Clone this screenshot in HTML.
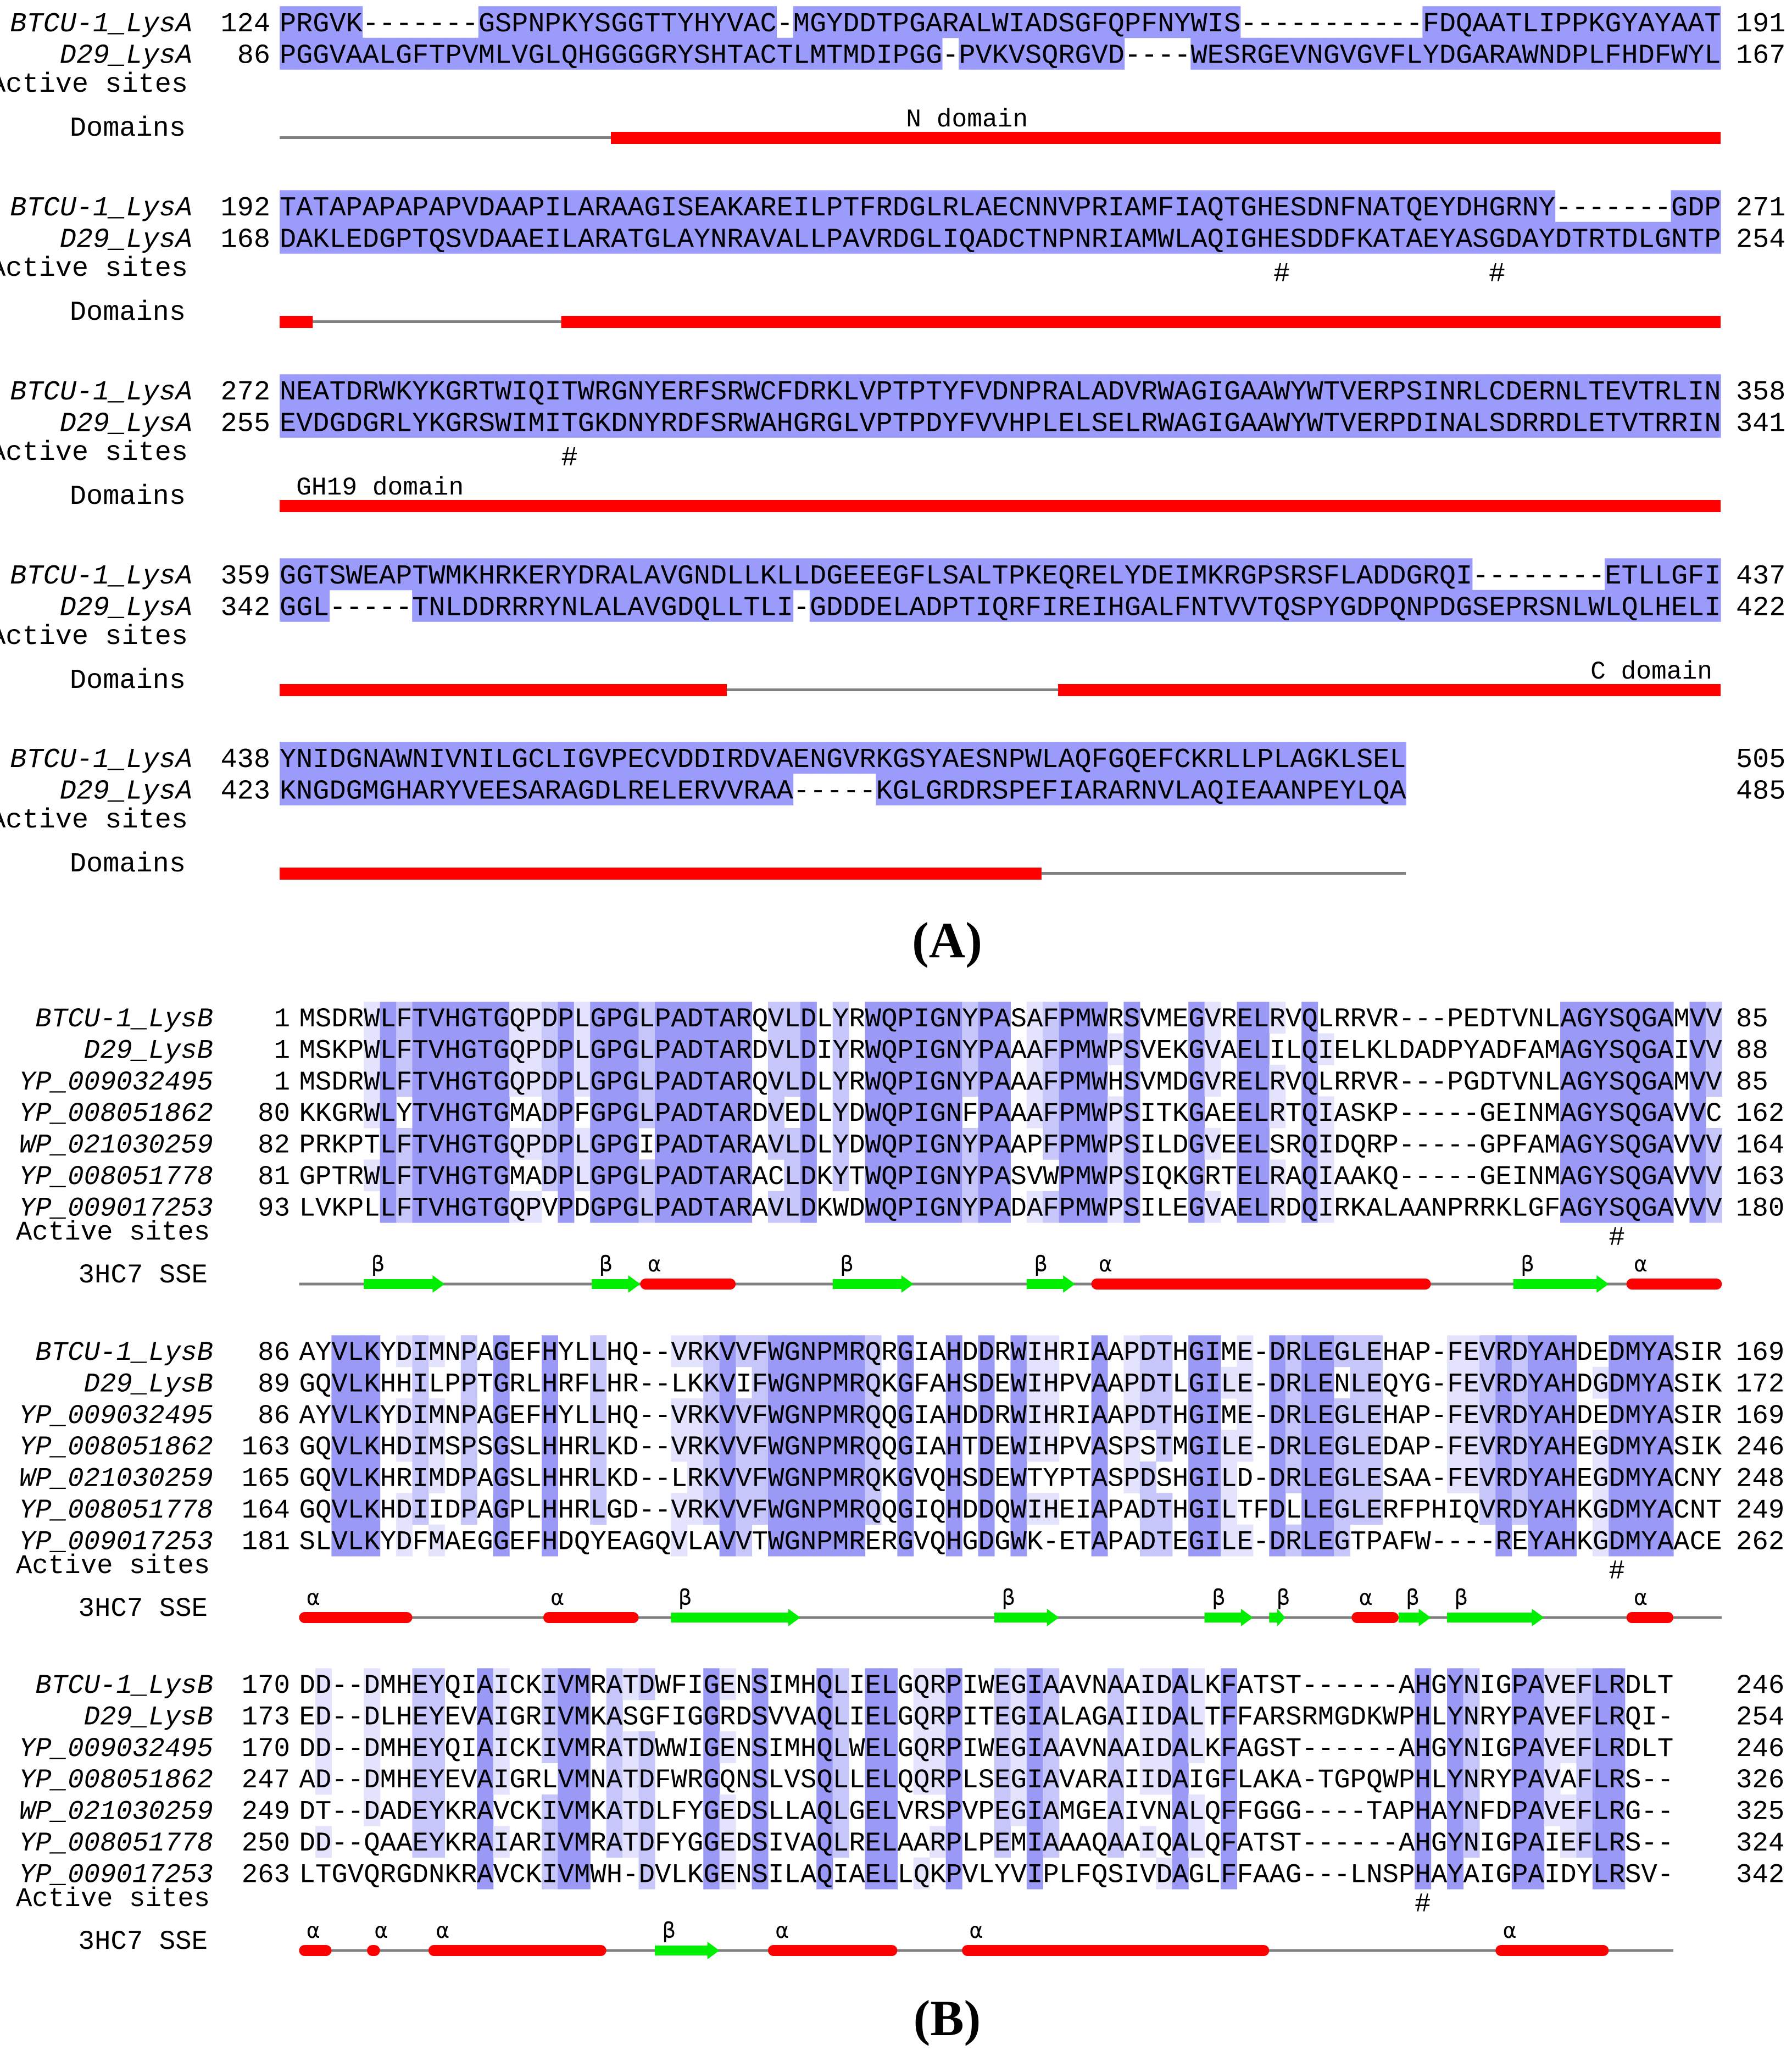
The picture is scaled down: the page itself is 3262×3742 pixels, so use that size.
<!DOCTYPE html>
<html><head><meta charset="utf-8">
<style>
html,body{margin:0;padding:0;background:#fff;}
svg{display:block;}
text{font-family:"Liberation Mono",monospace;}
</style></head>
<body>
<svg id="fig" xmlns="http://www.w3.org/2000/svg" width="3262" height="3742" viewBox="0 0 3262 3742">
<rect width="3262" height="3742" fill="#fff"/>
<g id="panelA"></g>
<g id="panelB"></g>
<text x="1724" y="1742" text-anchor="middle" style="font-family:'Liberation Serif',serif;font-weight:bold;font-size:92px">(A)</text>
<text x="1724" y="3704" text-anchor="middle" style="font-family:'Liberation Serif',serif;font-weight:bold;font-size:92px">(B)</text>
</svg>
<script>
// ---------- Panel A data ----------
const aNames = ["BTCU-1_LysA","D29_LysA"];
const aSeqs = [
 ["PRGVK-------GSPNPKYSGGTTYHYVAC-MGYDDTPGARALWIADSGFQPFNYWIS-----------FDQAATLIPPKGYAYAAT",
  "PGGVAALGFTPVMLVGLQHGGGGRYSHTACTLMTMDIPGG-PVKVSQRGVD----WESRGEVNGVGVFLYDGARAWNDPLFHDFWYL"],
 ["TATAPAPAPAPVDAAPILARAAGISEAKAREILPTFRDGLRLAECNNVPRIAMFIAQTGHESDNFNATQEYDHGRNY-------GDP",
  "DAKLEDGPTQSVDAAEILARATGLAYNRAVALLPAVRDGLIQADCTNPNRIAMWLAQIGHESDDFKATAEYASGDAYDTRTDLGNTP"],
 ["NEATDRWKYKGRTWIQITWRGNYERFSRWCFDRKLVPTPTYFVDNPRALADVRWAGIGAAWYWTVERPSINRLCDERNLTEVTRLIN",
  "EVDGDGRLYKGRSWIMITGKDNYRDFSRWAHGRGLVPTPDYFVVHPLELSELRWAGIGAAWYWTVERPDINALSDRRDLETVTRRIN"],
 ["GGTSWEAPTWMKHRKERYDRALAVGNDLLKLLDGEEEGFLSALTPKEQRELYDEIMKRGPSRSFLADDGRQI--------ETLLGFI",
  "GGL-----TNLDDRRRYNLALAVGDQLLTLI-GDDDELADPTIQRFIREIHGALFNTVVTQSPYGDPQNPDGSEPRSNLWLQLHELI"],
 ["YNIDGNAWNIVNILGCLIGVPECVDDIRDVAENGVRKGSYAESNPWLAQFGQEFCKRLLPLAGKLSEL",
  "KNGDGMGHARYVEESARAGDLRELERVVRAA-----KGLGRDRSPEFIARARNVLAQIEAANPEYLQA"]
];
const aStart = [[124,86],[192,168],[272,255],[359,342],[438,423]];
const aEnd = [[191,167],[271,254],[358,341],[437,422],[505,485]];
const aHash = [[],[60,73],[17],[],[]];
const aDomains = [
 [["g",0,20],["r",20,87]],
 [["r",0,2],["g",2,17],["r",17,87]],
 [["r",0,87]],
 [["r",0,27],["g",27,47],["r",47,87]],
 [["r",0,46],["g",46,68]]
];
const aDomLabels = [[["N domain",41.5,"middle"]],[],[["GH19 domain",1,"start"]],[["C domain",86.5,"end"]],[]];

// ---------- Panel B data ----------
const bNames = ["BTCU-1_LysB","D29_LysB","YP_009032495","YP_008051862","WP_021030259","YP_008051778","YP_009017253"];
const bSeqs = [
 ["MSDRWLFTVHGTGQPDPLGPGLPADTARQVLDLYRWQPIGNYPASAFPMWRSVMEGVRELRVQLRRVR---PEDTVNLAGYSQGAMVV",
  "MSKPWLFTVHGTGQPDPLGPGLPADTARDVLDIYRWQPIGNYPAAAFPMWPSVEKGVAELILQIELKLDADPYADFAMAGYSQGAIVV",
  "MSDRWLFTVHGTGQPDPLGPGLPADTARQVLDLYRWQPIGNYPAAAFPMWHSVMDGVRELRVQLRRVR---PGDTVNLAGYSQGAMVV",
  "KKGRWLYTVHGTGMADPFGPGLPADTARDVEDLYDWQPIGNFPAAAFPMWPSITKGAEELRTQIASKP-----GEINMAGYSQGAVVC",
  "PRKPTLFTVHGTGQPDPLGPGIPADTARAVLDLYDWQPIGNYPAAPFPMWPSILDGVEELSRQIDQRP-----GPFAMAGYSQGAVVV",
  "GPTRWLFTVHGTGMADPLGPGLPADTARACLDKYTWQPIGNYPASVWPMWPSIQKGRTELRAQIAAKQ-----GEINMAGYSQGAVVV",
  "LVKPLLFTVHGTGQPVPDGPGLPADTARAVLDKWDWQPIGNYPADAFPMWPSILEGVAELRDQIRKALAANPRRKLGFAGYSQGAVVV"],
 ["AYVLKYDIMNPAGEFHYLLHQ--VRKVVFWGNPMRQRGIAHDDRWIHRIAAPDTHGIME-DRLEGLEHAP-FEVRDYAHDEDMYASIR",
  "GQVLKHHILPPTGRLHRFLHR--LKKVIFWGNPMRQKGFAHSDEWIHPVAAPDTLGILE-DRLENLEQYG-FEVRDYAHDGDMYASIK",
  "AYVLKYDIMNPAGEFHYLLHQ--VRKVVFWGNPMRQQGIAHDDRWIHRIAAPDTHGIME-DRLEGLEHAP-FEVRDYAHDEDMYASIR",
  "GQVLKHDIMSPSGSLHHRLKD--VRKVVFWGNPMRQQGIAHTDEWIHPVASPSTMGILE-DRLEGLEDAP-FEVRDYAHEGDMYASIK",
  "GQVLKHRIMDPAGSLHHRLKD--LRKVVFWGNPMRQKGVQHSDEWTYPTASPDSHGILD-DRLEGLESAA-FEVRDYAHEGDMYACNY",
  "GQVLKHDIIDPAGPLHHRLGD--VRKVVFWGNPMRQQGIQHDDQWIHEIAPADTHGILTFDLLEGLERFPHIQVRDYAHKGDMYACNT",
  "SLVLKYDFMAEGGEFHDQYEAGQVLAVVTWGNPMRERGVQHGDGWK-ETAPADTEGILE-DRLEGTPAFW----REYAHKGDMYAACE"],
 ["DD--DMHEYQIAICKIVMRATDWFIGENSIMHQLIELGQRPIWEGIAAVNAAIDALKFATST------AHGYNIGPAVEFLRDLT",
  "ED--DLHEYEVAIGRIVMKASGFIGGRDSVVAQLIELGQRPITEGIALAGAIIDALTFFARSRMGDKWPHLYNRYPAVEFLRQI-",
  "DD--DMHEYQIAICKIVMRATDWWIGENSIMHQLWELGQRPIWEGIAAVNAAIDALKFAGST------AHGYNIGPAVEFLRDLT",
  "AD--DMHEYEVAIGRLVMNATDFWRGQNSLVSQLLELQQRPLSEGIAVARAIIDAIGFLAKA-TGPQWPHLYNRYPAVAFLRS--",
  "DT--DADEYKRAVCKIVMKATDLFYGEDSLLAQLGELVRSPVPEGIAMGEAIVNALQFFGGG----TAPHAYNFDPAVEFLRG--",
  "DD--QAAEYKRAIARIVMRATDFYGGEDSIVAQLRELAARPLPEMIAAAQAAIQALQFATST------AHGYNIGPAIEFLRS--",
  "LTGVQRGDNKRAVCKIVMWH-DVLKGENSILAQIAELLQKPVLYVIPLFQSIVDAGLFFAAG---LNSPHAYAIGPAIDYLRSV-"]
];
const bStart = [[1,1,1,80,82,81,93],[86,89,86,163,165,164,181],[170,173,170,247,249,250,263]];
const bEnd = [[85,88,85,162,164,163,180],[169,172,169,246,248,249,262],[246,254,246,326,325,324,342]];
const bHash = [[81],[81],[69]];
const bLineEnd = [88,88,85];
const bSSE = [
 [["b",4,9],["b",18.1,21.1],["a",21.1,27],["b",33,38],["b",45,48],["a",49,70],["b",75.1,81],["a",82.1,88]],
 [["a",0,7],["a",15.1,21],["b",23,31],["b",43,47],["b",56,59],["b",60,61],["a",65.1,68],["b",68,70],["b",71,77],["a",82.1,85]],
 [["a",0,2],["a",4.2,5],["a",8,19],["b",22,26],["a",29,37],["a",41,60],["a",74,81]]
];

const NS = "http://www.w3.org/2000/svg";
function mk(parent, tag, attrs){
  const e = document.createElementNS(NS, tag);
  for (const k in attrs) e.setAttribute(k, attrs[k]);
  parent.appendChild(e);
  return e;
}
function txt(parent, x, y, s, size, anchor, extra){
  const t = mk(parent, "text", {x:x, y:y, "font-size":size, "text-anchor":anchor||"start"});
  t.setAttribute("xml:space","preserve");
  if (extra) for (const k in extra) t.setAttribute(k, extra[k]);
  t.textContent = s;
  return t;
}

(function(){
  const g = document.getElementById("panelA");
  const x0 = 509, cw = 30.15, fs = cw/0.6, pitch = 57.5, blockY = [40,375,710,1045,1379];
  const col = c => x0 + c*cw;
  aSeqs.forEach((blk, bi) => {
    const bg = mk(g, "g", {});
    
    
    blk.forEach((seq, ri) => {
      const cy = blockY[bi] + ri*pitch;
      for (let i=0;i<seq.length;i++){
        if (seq[i] !== "-"){
          const r = mk(bg, "rect", {x:col(i), y:cy-pitch/2, width:cw+0.6, height:pitch+0.5, fill:"#9b9bfb"});
          
          
        }
      }
      const n = txt(bg, 350, cy+17, aNames[ri], fs, "end", {"font-style":"italic"});
      
      
      const s1 = txt(bg, 492, cy+17, String(aStart[bi][ri]), fs, "end");
      
      
      const s = txt(bg, x0, cy+17, seq, fs, "start");
      
      
      const e = txt(bg, 3160, cy+17, String(aEnd[bi][ri]), fs, "start");
      
      
    });
    const y0 = blockY[bi];
    const as = txt(bg, 342, y0+110+17, "Active sites", fs, "end");
    
    
    aHash[bi].forEach(c => {
      const h = txt(bg, col(c)+cw/2, y0+120+17, "#", fs, "middle");
      
      
    });
    const dl = txt(bg, 338, y0+190+17, "Domains", fs, "end");
    
    
    const by = y0 + 211;
    aDomains[bi].forEach(d => {
      let r;
      if (d[0]==="g") r = mk(bg, "rect", {x:col(d[1]), y:by-3, width:(d[2]-d[1])*cw, height:5, fill:"#808080"});
      else r = mk(bg, "rect", {x:col(d[1]), y:by-11, width:(d[2]-d[1])*cw, height:22, fill:"#ff0000"});
      
      
    });
    aDomLabels[bi].forEach(l => {
      const t = txt(bg, col(l[1]), y0+176+14, l[0], fs*0.92, l[2]);
      
      
    });
  });
})();

(function(){
  const g = document.getElementById("panelB");
  const x0 = 544.5, cw = 29.43, fs = cw/0.6, pitch = 57.4, blockY = [1852,2459,3065];
  const col = c => x0 + c*cw;
  bSeqs.forEach((blk, bi) => {
    const bg = mk(g, "g", {});
    
    
    const L = Math.max(...blk.map(s => s.length));
    for (let c=0;c<L;c++){
      const counts = {};
      blk.forEach(s => { const ch = s[c]; if (ch && ch !== "-") counts[ch] = (counts[ch]||0)+1; });
      let best = null, bc = 0;
      for (const k in counts) if (counts[k] > bc){ bc = counts[k]; best = k; }
      let fill = null;
      if (bc === 7) fill = "#9a9af6";
      else if (bc === 6) fill = "#c6c6fb";
      else if (bc === 5) fill = "#e3e3fd";
      if (!fill) continue;
      blk.forEach((s, ri) => {
        if (s[c] === best){
          const cy = blockY[bi] + ri*pitch;
          const r = mk(bg, "rect", {x:col(c), y:cy-pitch/2, width:cw+0.6, height:pitch+0.5, fill:fill});
          
          
        }
      });
    }
    blk.forEach((seq, ri) => {
      const cy = blockY[bi] + ri*pitch;
      const n = txt(bg, 388, cy+16, bNames[ri], fs, "end", {"font-style":"italic"});
      
      
      const s1 = txt(bg, 528, cy+16, String(bStart[bi][ri]), fs, "end");
      
      
      const s = txt(bg, x0, cy+16, seq, fs, "start");
      
      
      const e = txt(bg, 3160, cy+16, String(bEnd[bi][ri]), fs, "start");
      
      
    });
    const y0 = blockY[bi];
    const as = txt(bg, 29, y0+388+16, "Active sites", fs, "start");
    
    
    bHash[bi].forEach(c => {
      const h = txt(bg, col(c)+cw/2, y0+398+16, "#", fs, "middle");
      
      
    });
    const sl = txt(bg, 378, y0+466+16, "3HC7 SSE", fs, "end");
    
    
    const ly = y0 + 485;
    const line = mk(bg, "rect", {x:x0, y:ly-2.5, width:bLineEnd[bi]*cw, height:5, fill:"#808080"});
    
    
    bSSE[bi].forEach(s => {
      const xa = col(s[1]), xb = col(s[2]);
      let el;
      if (s[0]==="a"){
        el = mk(bg, "rect", {x:xa, y:ly-10, width:xb-xa, height:20, rx:10, ry:10, fill:"#ff0000"});
        
      } else {
        const hw = Math.min(22, (xb-xa)*0.5);
        el = mk(bg, "polygon", {points:[xa,ly-9, xb-hw,ly-9, xb-hw,ly-16, xb,ly, xb-hw,ly+16, xb-hw,ly+9, xa,ly+9].join(","), fill:"#00ee00"});
        
      }
      
      const lab = txt(bg, xa+14, y0+452+10, s[0]==="a" ? "α" : "β", fs*0.8, "start", {"style":"font-family:'DejaVu Sans Mono','Liberation Mono',monospace"});
      
      
    });
  });
})();
</script>
</body></html>
